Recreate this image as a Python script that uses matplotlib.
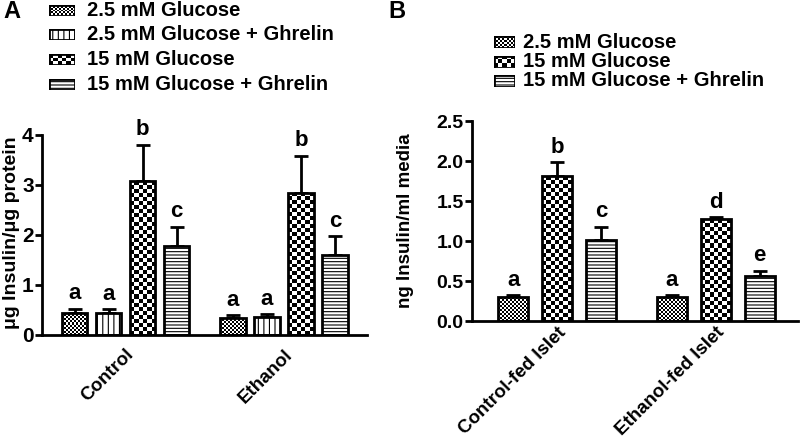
import numpy as np
import matplotlib
matplotlib.use("Agg")
from matplotlib import pyplot as plt

plt.rcParams["font.family"] = ["Liberation Sans", "DejaVu Sans"]
plt.rcParams["font.weight"] = "bold"
plt.rcParams["hatch.linewidth"] = 0.8

# panel A
CONDITIONS_A = ["2.5 mM Glucose", "2.5 mM Glucose + Ghrelin", "15 mM Glucose", "15 mM Glucose + Ghrelin"]
GROUPS_A = ["Control", "Ethanol"]
MEANS_A = [[0.45, 0.45, 3.08, 1.79], [0.35, 0.37, 2.85, 1.60]]
SEM_A = [[0.08, 0.07, 0.73, 0.38], [0.05, 0.05, 0.74, 0.38]]
LETTERS_A = [["a", "a", "b", "c"], ["a", "a", "b", "c"]]
YTICKS_A = [0, 1, 2, 3, 4]

# panel B
CONDITIONS_B = ["2.5 mM Glucose", "15 mM Glucose", "15 mM Glucose + Ghrelin"]
GROUPS_B = ["Control-fed Islet", "Ethanol-fed Islet"]
MEANS_B = [[0.30, 1.81, 1.01], [0.30, 1.27, 0.56]]
SEM_B = [[0.02, 0.18, 0.17], [0.02, 0.03, 0.07]]
LETTERS_B = [["a", "b", "c"], ["a", "d", "e"]]
YTICKS_B = [0.0, 0.5, 1.0, 1.5, 2.0, 2.5]

# fill style per condition: ("checker", cell px) or ("hatch", pattern)
FILLS = {
    "2.5 mM Glucose": ("checker", 2),
    "2.5 mM Glucose + Ghrelin": ("hatch", "|||"),
    "15 mM Glucose": ("checker", 4),
    "15 mM Glucose + Ghrelin": ("hatch", "-----"),
}

W, H = 800, 445


def px_box(left, top, width, height):
    return [left / W, 1 - (top + height) / H, width / W, height / H]


def checker_fill(ax, patch, cell_px):
    x0, y0 = patch.get_x(), patch.get_y()
    w, h = patch.get_width(), patch.get_height()
    p0 = ax.transData.transform((x0, y0))
    p1 = ax.transData.transform((x0 + w, y0 + h))
    nx = max(1, int(round(abs(p1[0] - p0[0]) / cell_px)))
    ny = max(1, int(round(abs(p1[1] - p0[1]) / cell_px)))
    board = np.add.outer(np.arange(ny), np.arange(nx)) % 2
    img = ax.imshow(board, cmap="gray", vmin=0, vmax=1, origin="lower",
                    extent=(x0, x0 + w, y0, y0 + h), interpolation="nearest",
                    aspect="auto", zorder=1.5)
    img.set_clip_path(patch)


def draw_bar(ax, x, height, width, condition):
    kind, value = FILLS[condition]
    if kind == "hatch":
        bar = ax.bar(x, height, width=width, facecolor="white", edgecolor="black",
                     linewidth=2, hatch=value, zorder=2)[0]
    else:
        bar = ax.bar(x, height, width=width, facecolor="none", edgecolor="black",
                     linewidth=2, zorder=2)[0]
        checker_fill(ax, bar, value)
    return bar


def draw_panel(ax, groups, conditions, means, sems, letters, group_step, width, xlim, yticks,
               fmt, tick_size, label_size, label_pad):
    ax.set_xlim(*xlim)
    ax.set_ylim(yticks[0], yticks[-1])
    centers = []
    for g, group in enumerate(groups):
        xs = g * group_step + np.arange(len(conditions))
        centers.append(xs.mean())
        for i, cond in enumerate(conditions):
            draw_bar(ax, xs[i], means[g][i], width, cond)
            ax.errorbar(xs[i], means[g][i], yerr=[[0], [sems[g][i]]], fmt="none",
                        ecolor="black", elinewidth=2, capsize=5, capthick=2, zorder=1)
            ax.annotate(letters[g][i], (xs[i], means[g][i] + sems[g][i]), xytext=(0, 3),
                        textcoords="offset points", ha="center", va="bottom",
                        fontsize=16, fontweight="bold")
    ax.set_xlim(*xlim)
    ax.set_ylim(yticks[0], yticks[-1])
    for side in ["top", "right"]:
        ax.spines[side].set_visible(False)
    for side in ["left", "bottom"]:
        ax.spines[side].set_linewidth(2)
    ax.set_yticks(yticks)
    ax.set_yticklabels([fmt.format(t) for t in yticks])
    ax.tick_params(axis="y", direction="out", length=5, width=2, labelsize=tick_size, pad=1)
    ax.set_xticks(centers)
    ax.set_xticklabels(groups, rotation=45, ha="right", va="top", rotation_mode="anchor",
                       fontsize=label_size, fontweight="bold")
    ax.tick_params(axis="x", length=0, pad=label_pad)


def draw_legend(conditions, sw_left, sw_w, sw_h, text_left, row_centers):
    for cond, yc in zip(conditions, row_centers):
        sax = fig.add_axes(px_box(sw_left, yc - sw_h / 2, sw_w, sw_h))
        sax.set_xlim(0, 1)
        sax.set_ylim(0, 1)
        sax.axis("off")
        draw_bar(sax, 0.5, 1, 1, cond)
        sax.set_xlim(0, 1)
        sax.set_ylim(0, 1)
        fig.text(text_left / W, 1 - yc / H, cond, ha="left", va="center",
                 fontsize=14.5, fontweight="bold")


fig = plt.figure(figsize=(8, 4.45), dpi=100)

ax_a = fig.add_axes(px_box(42, 135, 325, 200))
draw_panel(ax_a, GROUPS_A, CONDITIONS_A, MEANS_A, SEM_A, LETTERS_A,
           group_step=4.66, width=0.74, xlim=(-0.96, 8.6), yticks=YTICKS_A, fmt="{:d}",
           tick_size=15, label_size=13.5, label_pad=8)
fig.text(12 / W, 1 - 233 / H, "\u03bcg Insulin/\u03bcg protein", rotation=90,
         ha="center", va="center", fontsize=14, fontweight="bold")

ax_b = fig.add_axes(px_box(472, 121, 326, 200))
draw_panel(ax_b, GROUPS_B, CONDITIONS_B, MEANS_B, SEM_B, LETTERS_B,
           group_step=3.6, width=0.68, xlim=(-0.94, 6.47), yticks=YTICKS_B, fmt="{:.1f}",
           tick_size=14, label_size=13.5, label_pad=2)
fig.text(405 / W, 1 - 221 / H, "ng Insulin/ml media", rotation=90,
         ha="center", va="center", fontsize=13.5, fontweight="bold")

draw_legend(CONDITIONS_A, 49, 26, 11, 87, [10, 34.7, 59.4, 84])
draw_legend(CONDITIONS_B, 494, 21, 12, 523, [42, 61.5, 81])

fig.text(12 / W, 1 - 12 / H, "A", ha="center", va="center", fontsize=17, fontweight="bold")
fig.text(397 / W, 1 - 12 / H, "B", ha="center", va="center", fontsize=17, fontweight="bold")

fig.savefig("out.png", dpi=100)
